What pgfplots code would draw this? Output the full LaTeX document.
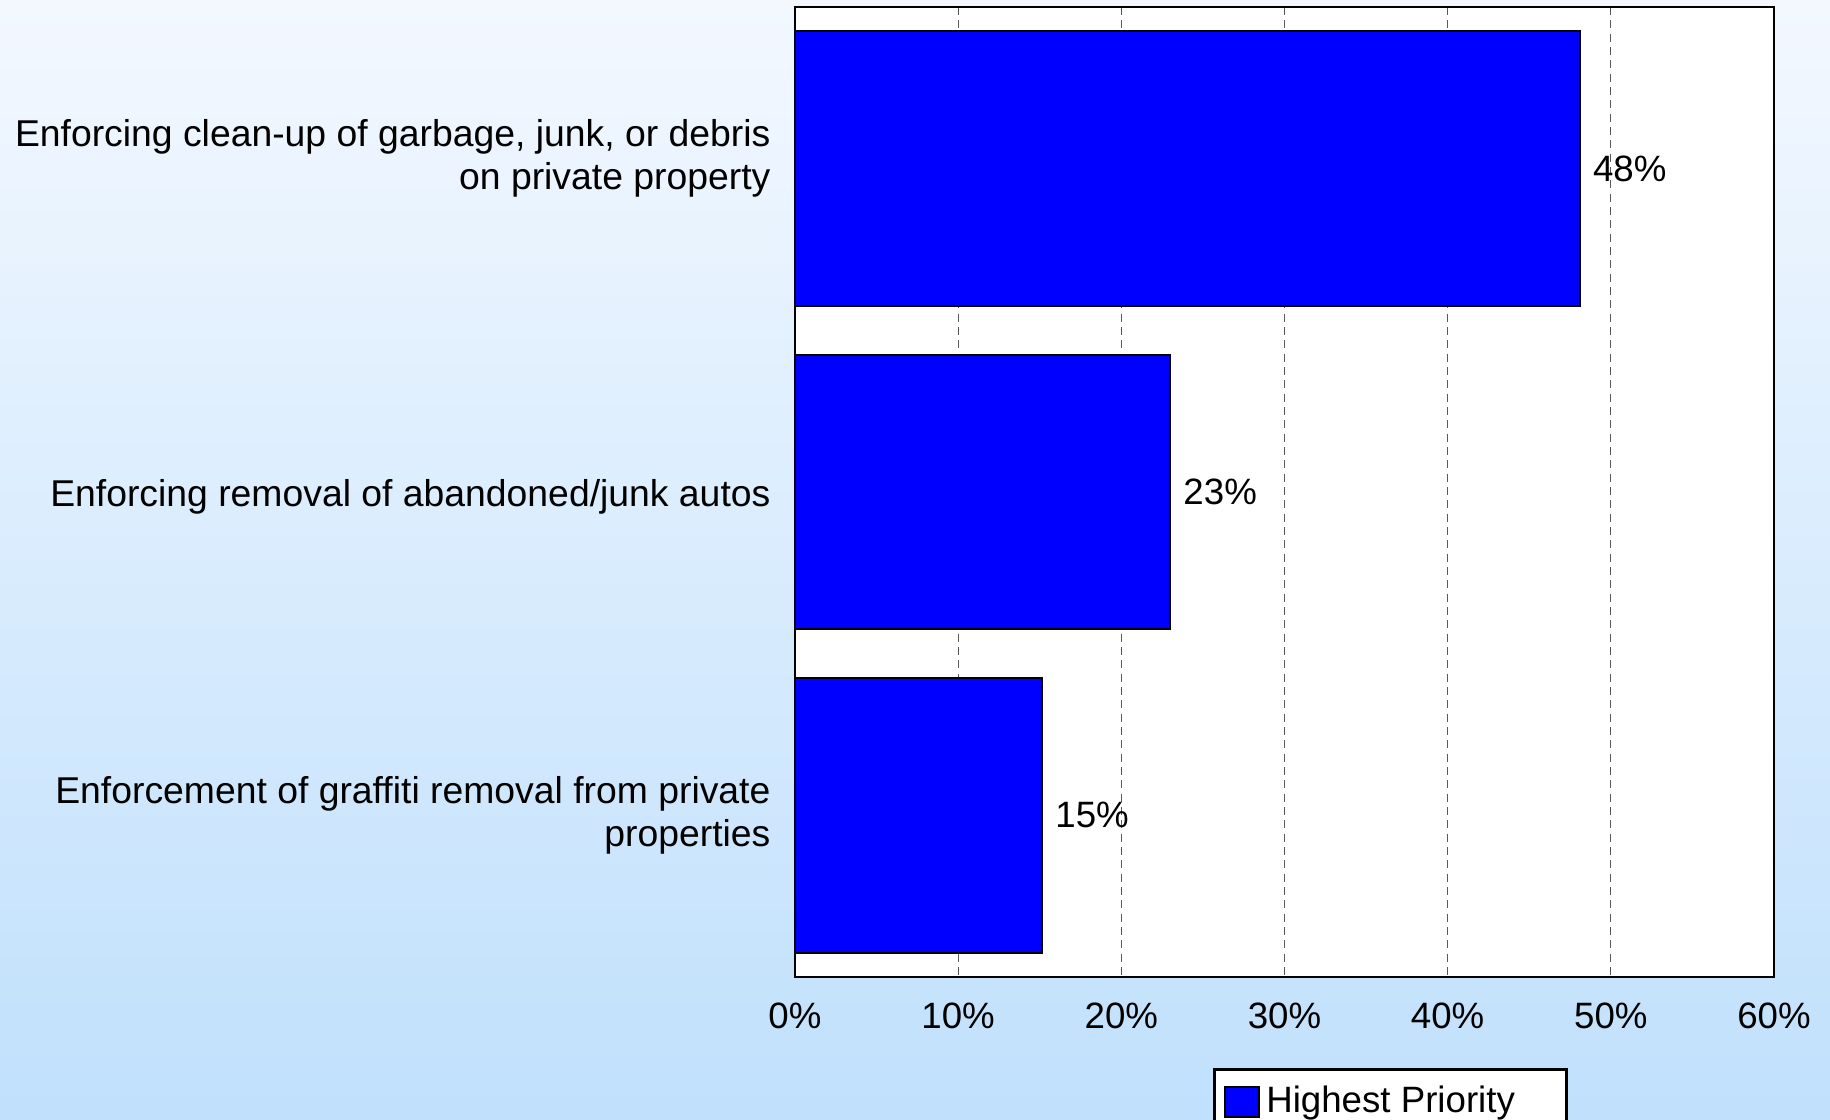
\documentclass[border=0pt]{standalone}
\usepackage{fontspec}
\setmainfont{Liberation Sans}
\usepackage{pgfplots}
\pgfplotsset{compat=1.18}
\definecolor{bgtop}{RGB}{243,248,255}
\definecolor{bgbot}{RGB}{192,224,252}
\definecolor{barblue}{RGB}{0,0,255}
\pgfplotstableread{
x y lab
48.1 0 48
23.0 1 23
15.15 2 15
}\datatable
\begin{document}
\fontsize{11}{12.9}\selectfont
\begin{tikzpicture}[x=0.3pt,y=0.3pt]
\clip (0,0) rectangle (1830,1119);
\shade[top color=bgtop,bottom color=bgbot] (0,0) rectangle (1830,1119);
\begin{axis}[
  at={(238.5pt,42.6pt)}, anchor=south west,
  width=293.7pt, height=291pt, scale only axis,
  xbar, bar width=0.85,
  y dir=reverse, ymin=-0.5, ymax=2.5,
  ytick={0,1,2},
  yticklabels={{Enforcing clean-up of garbage, junk, or debris\\on private property},{Enforcing removal of abandoned/junk autos},{Enforcement of graffiti removal from private\\properties}},
  yticklabel style={align=right, xshift=-3.5pt, yshift={ifthenelse(\ticknum==0,3,ifthenelse(\ticknum==1,-1.4,0))}, font=\fontsize{11.2}{12.9}\selectfont},
  xmin=0, xmax=60, xtick={0,10,...,60},
  xticklabel={\pgfmathprintnumber{\tick}\%},
  xticklabel style={yshift=-4pt, font=\fontsize{11}{12.9}\selectfont},
  /pgf/number format/assume math mode=true,
  xmajorgrids, grid style={black!65, dash pattern=on 2.4pt off 1.6pt, line width=0.35pt},
  major tick length=0,
  axis line style={line width=0.8pt},
  axis background/.style={fill=white},
  point meta=explicit symbolic,
  nodes near coords={\pgfplotspointmeta\%},
  nodes near coords style={font=\fontsize{11}{12.9}\selectfont, black, anchor=west},
  legend style={at={(0.427,-0.094)}, anchor=north west, draw=black, line width=0.8pt, fill=white, font=\fontsize{11}{12.9}\selectfont, inner xsep=3pt, inner ysep=3pt},
  legend image code/.code={\draw[#1, line width=0.6pt] (0pt,-4.5pt) rectangle (10pt,4.5pt);},
  legend cell align=left,
]
\addplot[fill=barblue, draw=black, line width=0.6pt] table[x=x, y=y, meta=lab] {\datatable};
\addlegendentry{Highest Priority\hspace*{10.5pt}\null}
\end{axis}
\end{tikzpicture}
\end{document}
